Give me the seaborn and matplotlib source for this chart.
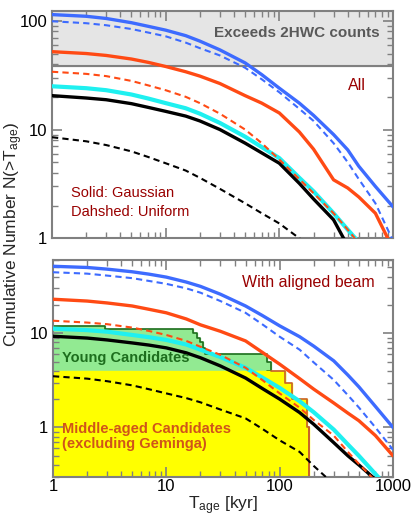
import pandas as pd
import seaborn as sns
import matplotlib.pyplot as plt
from matplotlib.ticker import FuncFormatter, NullFormatter, LogLocator

t_age = [1, 2, 3, 5, 7, 10, 15, 20, 30, 50, 70, 100, 150, 200, 300, 400, 500, 700, 1000]

# top panel: all pulsars
all_blue = [114, 110, 105, 96, 89, 82, 73, 65, 54, 41, 32, 24, 17.5, 13.5, 9.0, 6.5, 4.6, 3.0, 1.95]
all_blue_d = [99, 95, 91, 84, 78, 72, 63, 56, 48, 37, 29, 22, 15.5, 12, 7.5, 5.0, 3.5, 2.1, 0.95]
all_red = [52, 50, 48, 44.5, 41.5, 38, 34, 31, 26.5, 20.5, 17.5, 14.2, 9.5, 6.6, 3.45, 2.9, 2.4, 1.7, 0.8]
all_red_d = [34, 32.5, 31, 28, 25.5, 23, 20, 17.5, 14, 10, 7.5, 5.3, 3.5, 2.6, 1.7, 1.2, 0.9, 0.6, 0.35]
all_cyan = [25, 24, 23, 21, 19.3, 17.5, 15.7, 14, 11.5, 8.6, 6.9, 5.46, 3.6, 2.7, 1.7, 1.2, 0.92, 0.6, 0.35]
all_black = [20.5, 19.5, 18.8, 17.3, 16, 14.7, 13.3, 12, 10, 7.5, 6.1, 4.9, 3.2, 2.3, 1.48, 0.85, 0.62, 0.4, 0.25]
all_black_d = [8.5, 7.8, 7.2, 6.3, 5.6, 4.9, 4.2, 3.6, 2.85, 2.1, 1.7, 1.37, 1.0, 0.8, 0.5, 0.35, 0.28, 0.2, 0.15]

# bottom panel: with aligned beam
beam_blue = [51.5, 50, 48, 45, 42.5, 39.5, 35, 31.5, 26, 19.5, 15.5, 12, 9.2, 7.3, 5.1, 3.6, 2.7, 1.67, 1.0]
beam_blue_d = [44.5, 43, 41, 38.5, 36, 33.5, 30, 27, 22, 16.5, 12.5, 9.2, 6.7, 4.9, 3.2, 2.2, 1.63, 1.0, 0.58]
beam_red = [23, 22, 21, 19.5, 18, 16.5, 14.2, 12.3, 10.5, 8.3, 6.3, 4.7, 3.3, 2.55, 1.82, 1.42, 1.18, 0.82, 0.5]
beam_red_d = [13.6, 13.0, 12.5, 11.5, 10.6, 9.6, 8.3, 7.2, 5.9, 4.3, 3.2, 2.3, 1.62, 1.2, 0.82, 0.55, 0.41, 0.27, 0.18]
beam_cyan = [11.2, 10.8, 10.4, 9.6, 9.1, 8.5, 7.6, 6.7, 5.6, 4.3, 3.4, 2.63, 1.9, 1.45, 0.95, 0.66, 0.5, 0.32, 0.2]
beam_black = [9.3, 8.9, 8.5, 7.9, 7.5, 7.0, 6.2, 5.5, 4.5, 3.35, 2.6, 2.0, 1.44, 1.08, 0.69, 0.5, 0.4, 0.28, 0.18]
beam_black_d = [3.5, 3.3, 3.1, 2.8, 2.55, 2.3, 2.05, 1.85, 1.55, 1.25, 0.97, 0.73, 0.55, 0.39, 0.25, 0.18, 0.14, 0.1, 0.08]

# observed candidates (cumulative counts, steps)
young_t = [1, 2.9, 17.3, 18.5, 19.8, 21.2, 21.9, 77, 84, 112]
young_n = [12, 11, 10, 9, 8, 7, 6, 5, 4, 4]
mid_t = [1, 112, 128, 173, 183]
mid_n = [4, 3, 2, 1, 0]

hwc_limit = 38

curves = {
    'all': {'blue': all_blue, 'blue_d': all_blue_d, 'red': all_red, 'red_d': all_red_d,
            'cyan': all_cyan, 'black': all_black, 'black_d': all_black_d},
    'beam': {'blue': beam_blue, 'blue_d': beam_blue_d, 'red': beam_red, 'red_d': beam_red_d,
             'cyan': beam_cyan, 'black': beam_black, 'black_d': beam_black_d},
}
rows = []
for panel, d in curves.items():
    for name, vals in d.items():
        for t, n in zip(t_age, vals):
            rows.append({'panel': panel, 'curve': name, 't': t, 'n': n})
df = pd.DataFrame(rows)

styles = {
    'cyan': ('#1ff0f0', 3.0, '-', 3),
    'black': ('black', 2.4, '-', 4),
    'black_d': ('black', 1.5, (0, (3, 2)), 4),
    'red_d': ('#ff4a14', 1.5, (0, (3, 2)), 5),
    'red': ('#ff4a14', 2.4, '-', 5),
    'blue_d': ('#3d6bff', 1.5, (0, (3, 2)), 6),
    'blue': ('#3d6bff', 2.4, '-', 6),
}

sns.set_style('ticks')
plt.rcParams['font.family'] = ['Liberation Sans', 'DejaVu Sans']
plt.rcParams['mathtext.fontset'] = 'custom'
plt.rcParams['mathtext.rm'] = 'Liberation Sans'
plt.rcParams['mathtext.it'] = 'Liberation Sans'

fig = plt.figure(figsize=(4.15, 5.19), dpi=100)
ax1 = fig.add_axes([0.1253, 0.5408, 0.8217, 0.438])
ax2 = fig.add_axes([0.1277, 0.0815, 0.8193, 0.4175])

# gray region above 2HWC counts
ax1.axhspan(hwc_limit, 200, color='#e5e5e5', zorder=0)
ax1.axhline(hwc_limit, color='#808080', lw=1.5, zorder=1)

# candidate histograms
ax2.fill_between(young_t, young_n, 0.01, step='post', color='#92ea92', zorder=1)
ax2.step(young_t[:-1], young_n[:-1], where='post', color='#1d6e1d', lw=1.2, zorder=2)
ax2.plot([young_t[-3], young_t[-2]], [young_n[-2], young_n[-2]], color='#1d6e1d', lw=1.2, zorder=2)
ax2.fill_between(mid_t, mid_n, 0.01, step='post', color='#ffff00', zorder=2)
ax2.step(young_t[-2:] + mid_t[1:], [4, 4] + mid_n[1:], where='post', color='#c8602a', lw=1.2, zorder=2)
ax2.plot([mid_t[-1], mid_t[-1]], [mid_n[-2], 0.01], color='#c8602a', lw=1.2, zorder=2)

for ax, panel in ((ax1, 'all'), (ax2, 'beam')):
    for name, (c, lw, ls, z) in styles.items():
        sub = df[(df.panel == panel) & (df.curve == name)]
        sns.lineplot(data=sub, x='t', y='n', ax=ax, color=c, linewidth=lw,
                     linestyle=ls, estimator=None, zorder=z)
    ax.set_xscale('log')
    ax.set_yscale('log')
    ax.set_xlim(1, 1000)
    ax.set_xlabel('')
    ax.set_ylabel('')
    ax.xaxis.set_major_formatter(FuncFormatter(lambda v, p: f'{v:g}'))
    ax.yaxis.set_major_formatter(FuncFormatter(lambda v, p: f'{v:g}'))
    ax.xaxis.set_minor_formatter(NullFormatter())
    ax.yaxis.set_minor_formatter(NullFormatter())
    ax.yaxis.set_minor_locator(LogLocator(base=10, subs=range(2, 10), numticks=20))
    ax.tick_params(which='both', direction='in', top=True, right=True,
                   colors='#808080', labelcolor='black', labelsize=12)
    ax.tick_params(which='major', length=7, width=1.2)
    ax.tick_params(which='minor', length=4, width=1.0)
    ax.tick_params(axis='x', pad=2)
    for s in ax.spines.values():
        s.set_color('#808080')
        s.set_linewidth(1.5)
    ax.set_axisbelow(False)

ax1.set_ylim(1, 123)
ax2.set_ylim(0.3, 60)
ax1.tick_params(labelbottom=False)

dark_red = '#990000'
ax1.text(0.962, 0.903, 'Exceeds 2HWC counts', transform=ax1.transAxes, ha='right', va='center',
         fontsize=11, fontweight='bold', color='#595959')
ax1.text(0.921, 0.674, 'All', transform=ax1.transAxes, ha='right', va='center', fontsize=11.5, color=dark_red)
ax1.text(0.056, 0.199, 'Solid: Gaussian', transform=ax1.transAxes, ha='left', va='center', fontsize=10.5, color=dark_red)
ax1.text(0.056, 0.116, 'Dahshed: Uniform', transform=ax1.transAxes, ha='left', va='center', fontsize=10.5, color=dark_red)

ax2.text(0.947, 0.894, 'With aligned beam', transform=ax2.transAxes, ha='right', va='center', fontsize=11.5, color=dark_red)
ax2.text(0.026, 0.548, 'Young Candidates', transform=ax2.transAxes, ha='left', va='center',
         fontsize=10.5, fontweight='bold', color='#1d6e1d', zorder=10)
ax2.text(0.026, 0.22, 'Middle-aged Candidates', transform=ax2.transAxes, ha='left', va='center',
         fontsize=10.5, fontweight='bold', color='#d0541a', zorder=10)
ax2.text(0.026, 0.151, '(excluding Geminga)', transform=ax2.transAxes, ha='left', va='center',
         fontsize=10.5, fontweight='bold', color='#d0541a', zorder=10)

ax2.set_xlabel('T$_{\\rm age}$ [kyr]', fontsize=12.5, labelpad=0)
fig.text(0.033, 0.548, 'Cumulative Number N(>T$_{\\rm age}$)', rotation=90, ha='center', va='center', fontsize=12.5)

fig.savefig('out.png', dpi=100)
